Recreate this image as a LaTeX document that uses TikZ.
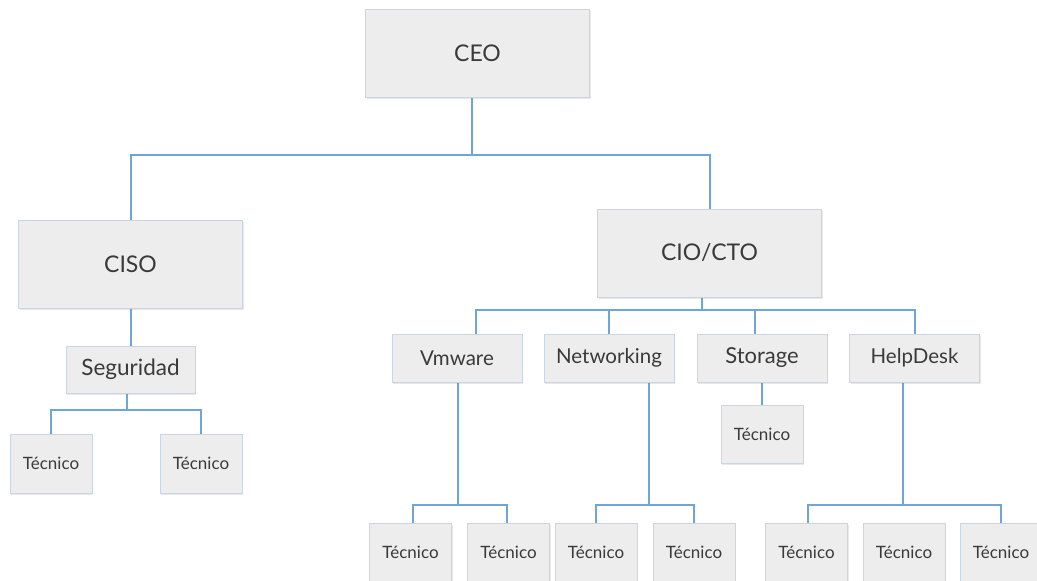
\documentclass[tikz,border=0pt]{standalone}
\usepackage{fontspec}
\setmainfont{Lato}
\usetikzlibrary{shadows,calc,backgrounds}
\definecolor{boxfill}{HTML}{EDEDED}
\definecolor{boxline}{HTML}{C9D5E2}
\definecolor{linkblue}{HTML}{6FA6DA}
\definecolor{txt}{HTML}{3A3A3A}
\tikzset{
  unit/.style={draw=boxline, line width=0.8pt, fill=boxfill, text=txt,
    inner sep=0pt, anchor=center,
    drop shadow={opacity=0.18, shadow xshift=1.2pt, shadow yshift=-1.5pt}},
  big/.style={unit, minimum width=224pt, minimum height=88pt, font=\fontsize{23}{27}\selectfont},
  mid/.style={unit, minimum width=130pt, minimum height=48pt, font=\fontsize{20.5}{24}\selectfont},
  tec/.style={unit, minimum width=82pt, minimum height=59pt, font=\fontsize{17}{20}\selectfont},
  link/.style={draw=linkblue, line width=2pt}
}
\begin{document}
\begin{tikzpicture}[x=1pt, y=-1pt]
\useasboundingbox (0,0) rectangle (1037,581);

% junction points of the connector trees
\coordinate (j0) at (472,155);
\coordinate (j1) at (702,310);
\coordinate (j2) at (127,410);
\coordinate (j3) at (458,505);
\coordinate (j4) at (649,505);
\coordinate (j5) at (903,505);

% boxes
\node[big] (ceo)  at (477.5,53)  {CEO};
\node[big] (ciso) at (130.5,264) {CISO};
\node[big] (cio)  at (709.5,253) {CIO/CTO};

\node[mid, minimum width=129pt, minimum height=47pt, font=\fontsize{22.5}{26}\selectfont] (seg) at (130.5,369.5) {Seguridad};
\node[mid] (vm)  at (457,358) {Vmware};
\node[mid] (net) at (609,358) {Networking};
\node[mid, font=\fontsize{22}{26}\selectfont] (sto) at (762,358) {Storage};
\node[mid] (hd)  at (914.5,358) {HelpDesk};

\node[tec] (s1) at (51,463.5)  {Técnico};
\node[tec] (s2) at (201,463.5) {Técnico};
\node[tec, minimum height=58pt] (st) at (762,434) {Técnico};

\node[tec] (v1) at (410.5,552.5) {Técnico};
\node[tec] (v2) at (508.5,552.5) {Técnico};
\node[tec] (n1) at (596,552.5)   {Técnico};
\node[tec] (n2) at (694,552.5)   {Técnico};
\node[tec] (h1) at (806.5,552.5) {Técnico};
\node[tec] (h2) at (904,552.5)   {Técnico};
\node[tec] (h3) at (1001,552.5)  {Técnico};

% connectors, kept behind the boxes
\begin{pgfonlayer}{background}
\draw[link] (ceo.south -| j0) -- (j0);
\draw[link] (ciso.north) |- (j0) -| (cio.north);
\draw[link] (ciso.south) -- (seg.north);
\draw[link] (cio.south -| j1) -- (j1);
\draw[link] ([xshift=19pt]vm.north) |- (j1) -| (hd.north);
\draw[link] (net.north) -- (net.north |- j1);
\draw[link] ([xshift=-7pt]sto.north) -- ([xshift=-7pt]sto.north |- j1);
\draw[link] (seg.south -| j2) -- (j2);
\draw[link] (s1.north) |- (j2) -| (s2.north);
\draw[link] (sto.south) -- (st.north);
\draw[link] (vm.south -| j3) -- (j3);
\draw[link] ([xshift=2.5pt]v1.north) |- (j3) -| ([xshift=-1.5pt]v2.north);
\draw[link] (net.south -| j4) -- (j4);
\draw[link] (n1.north) |- (j4) -| (n2.north);
\draw[link] (hd.south -| j5) -- (j5);
\draw[link] ([xshift=1.5pt]h1.north) |- (j5) -| (h3.north);
\end{pgfonlayer}
\end{tikzpicture}
\end{document}
